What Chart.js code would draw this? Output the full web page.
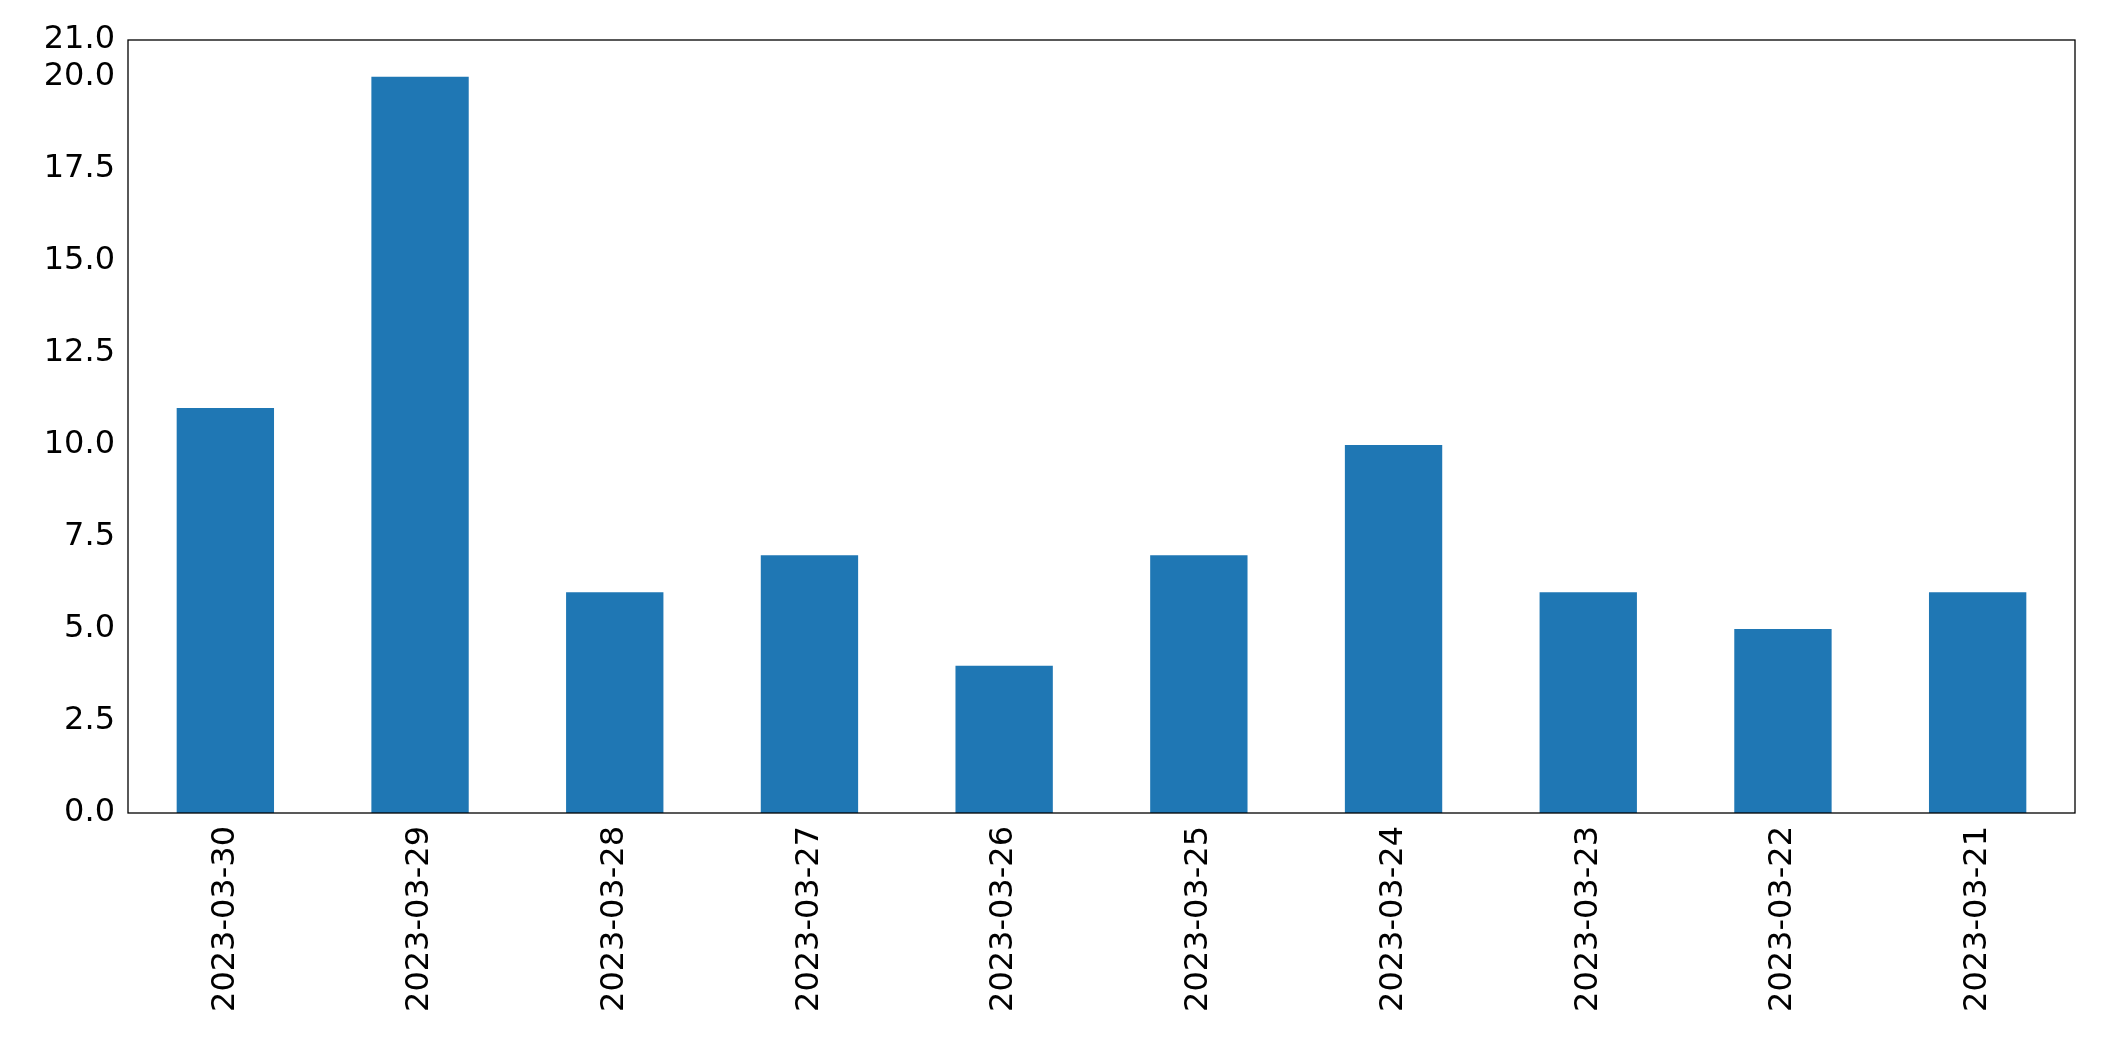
<!DOCTYPE html>
<html>
<head>
<meta charset="utf-8">
<script src="https://cdn.jsdelivr.net/npm/chart.js@4"></script>
<style>
  html, body { margin: 0; padding: 0; background: #fff; }
  #wrap { width: 2104px; height: 1061px; }
</style>
</head>
<body>
<div id="wrap"><canvas id="chart"></canvas></div>
<script>
const dates = ['2023-03-30', '2023-03-29', '2023-03-28', '2023-03-27', '2023-03-26',
               '2023-03-25', '2023-03-24', '2023-03-23', '2023-03-22', '2023-03-21'];
const counts = [11, 20, 6, 7, 4, 7, 10, 6, 5, 6];

// frame around the plot area, like matplotlib spines
const frame = {
    id: 'frame',
    afterDraw(chart) {
        const { ctx, chartArea: a } = chart;
        ctx.save();
        ctx.strokeStyle = '#000';
        ctx.lineWidth = 1.3;
        ctx.strokeRect(a.left, a.top, a.right - a.left, a.bottom - a.top);
        ctx.restore();
    }
};

new Chart(document.getElementById('chart'), {
    type: 'bar',
    data: {
        labels: dates,
        datasets: [{
            data: counts,
            backgroundColor: '#1f77b4',
            categoryPercentage: 0.5,
            barPercentage: 1.0
        }]
    },
    options: {
        responsive: true,
        maintainAspectRatio: false,
        animation: false,
        layout: { padding: { top: 40, right: 29, left: 0, bottom: 0 } },
        plugins: { legend: { display: false }, tooltip: { enabled: false } },
        scales: {
            x: {
                grid: { display: false, drawTicks: true, tickLength: 10, tickColor: '#000' },
                border: { display: false },
                ticks: {
                    color: '#000', minRotation: 90, maxRotation: 90,
                    font: { family: 'DejaVu Sans', size: 32 }
                },
                afterFit(axis) { axis.height = 248; }
            },
            y: {
                min: 0, max: 21,
                grid: { display: false, drawTicks: true, tickLength: 10, tickColor: '#000' },
                border: { display: false },
                ticks: {
                    stepSize: 2.5, color: '#000',
                    font: { family: 'DejaVu Sans', size: 32 },
                    callback: v => v.toFixed(1)
                },
                afterFit(axis) { axis.width = 128; }
            }
        }
    },
    plugins: [frame]
});
</script>
</body>
</html>
